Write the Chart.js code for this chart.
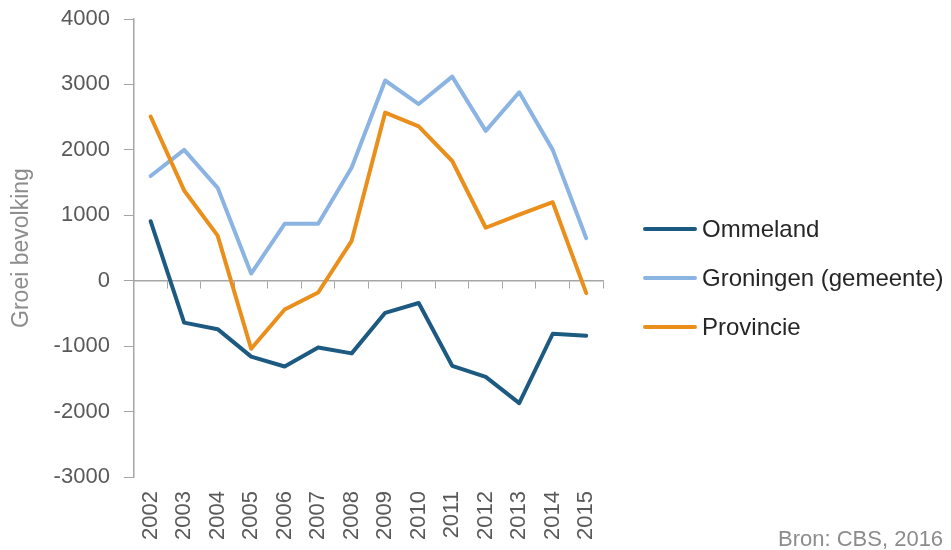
<!DOCTYPE html>
<html>
<head>
<meta charset="utf-8">
<title>Groei bevolking</title>
<script src="https://cdn.jsdelivr.net/npm/chart.js@4.4.1/dist/chart.umd.min.js"></script>
<style>
	html, body { margin: 0; padding: 0; background: #fff; }
	#wrap { position: relative; width: 951px; height: 550px; overflow: hidden; }
	#legend { position: absolute; left: 643px; top: 215px; margin: 0; padding: 0; list-style: none;
		font-family: 'Liberation Sans', Arial, sans-serif; font-size: 24px; color: #262626; white-space: nowrap; }
	#legend li { height: 49px; line-height: 28px; }
	#legend .swatch { display: inline-block; width: 54px; height: 4px; border-radius: 2px;
		vertical-align: middle; margin-right: 5px; position: relative; top: -2px; }
</style>
</head>
<body>
<div id="wrap">
	<canvas id="canvas-groei" width="951" height="550"></canvas>
	<ul id="legend"></ul>
</div>
<script>
// Chart data.
var years = ['2002', '2003', '2004', '2005', '2006', '2007', '2008', '2009', '2010', '2011', '2012', '2013', '2014', '2015'];
var ommeland = [910, -640, -740, -1160, -1310, -1020, -1110, -490, -340, -1300, -1470, -1870, -810, -840];
var groningen = [1600, 2000, 1420, 110, 870, 870, 1730, 3060, 2700, 3120, 2290, 2880, 2000, 650];
var provincie = [2510, 1380, 690, -1040, -440, -180, 610, 2570, 2360, 1830, 810, 1010, 1200, -190];
var seriesNames = ['Ommeland', 'Groningen (gemeente)', 'Provincie'];
var yMin = -3000;
var yMax = 4000;
var yStep = 1000;
var sourceText = 'Bron: CBS, 2016';

var fontFamily = "'Liberation Sans', Arial, sans-serif";
var axisGrey = '#a6a6a6';
var labelGrey = '#595959';

Chart.defaults.font.family = fontFamily;

function lineSet(label, values, colour, order) {
	return {
		label: label,
		data: values,
		borderColor: colour,
		backgroundColor: colour,
		borderWidth: 4,
		borderJoinStyle: 'round',
		borderCapStyle: 'round',
		pointRadius: 0,
		pointHoverRadius: 0,
		tension: 0,
		fill: false,
		order: order
	};
}

// Small plugin for the source note in the bottom right corner.
var sourceNote = {
	id: 'sourceNote',
	afterDraw: function (chart) {
		var ctx = chart.ctx;
		ctx.save();
		ctx.font = '22px ' + fontFamily;
		ctx.fillStyle = '#8c8c8c';
		ctx.textAlign = 'left';
		ctx.textBaseline = 'alphabetic';
		ctx.fillText(sourceText, 778, 546);
		ctx.restore();
	}
};

var ctx = document.getElementById('canvas-groei').getContext('2d');
var chart = new Chart(ctx, {
	type: 'line',
	data: {
		labels: years,
		datasets: [
			lineSet(seriesNames[0], ommeland, '#1c5a82', 3),
			lineSet(seriesNames[1], groningen, '#8cb4e3', 2),
			lineSet(seriesNames[2], provincie, '#ea8f1c', 1)
		]
	},
	options: {
		responsive: false,
		animation: false,
		layout: {
			padding: { top: 0, left: 6, right: 348, bottom: 4 }
		},
		plugins: {
			tooltip: { enabled: false },
			legend: { display: false }
		},
		scales: {
			x: {
				type: 'category',
				position: 'bottom',
				offset: true,
				grid: { display: false },
				border: { display: false },
				ticks: {
					minRotation: 90,
					maxRotation: 90,
					autoSkip: false,
					padding: 6,
					color: labelGrey,
					font: { size: 22 }
				}
			},
			x2: {
				type: 'category',
				position: { y: 0 },
				offset: true,
				ticks: { display: false },
				grid: {
					display: true,
					drawOnChartArea: false,
					offset: true,
					tickLength: 7,
					color: axisGrey,
					lineWidth: 1
				},
				border: { display: true, color: axisGrey, width: 1.5 }
			},
			y: {
				min: yMin,
				max: yMax,
				// keep the top of the plot close to the canvas edge
				afterFit: function (scale) {
					scale.paddingTop = 19;
				},
				ticks: {
					stepSize: yStep,
					padding: 14,
					color: labelGrey,
					font: { size: 22 },
					callback: function (value) { return String(value); }
				},
				grid: {
					display: true,
					drawOnChartArea: false,
					tickLength: 10,
					color: axisGrey
				},
				border: { display: true, color: axisGrey, width: 1.5 },
				title: {
					display: true,
					text: 'Groei bevolking',
					color: '#8c8c8c',
					font: { size: 23 },
					padding: { top: 2, bottom: 4 }
				}
			}
		}
	},
	plugins: [sourceNote]
});

// Legend built from the chart's own datasets.
var legend = document.getElementById('legend');
chart.data.datasets.forEach(function (dataset) {
	var item = document.createElement('li');
	var swatch = document.createElement('span');
	swatch.className = 'swatch';
	swatch.style.background = dataset.borderColor;
	item.appendChild(swatch);
	item.appendChild(document.createTextNode(dataset.label));
	legend.appendChild(item);
});
</script>
</body>
</html>
